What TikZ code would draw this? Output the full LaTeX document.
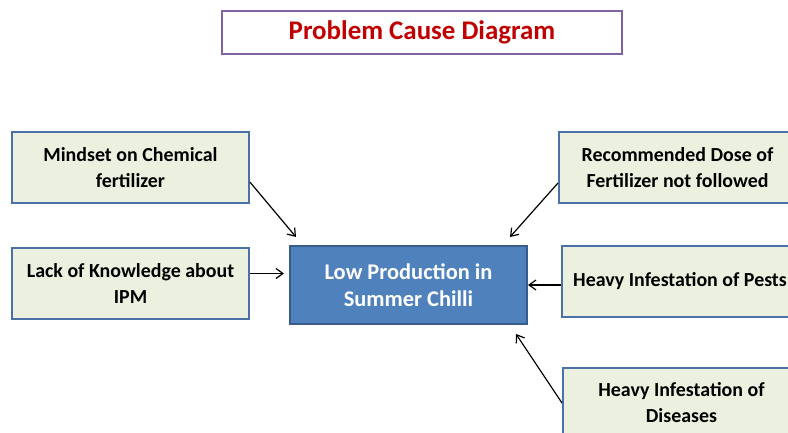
\documentclass[tikz,border=0pt]{standalone}
\usepackage{fontspec}
\setmainfont{Carlito}
\usetikzlibrary{arrows.meta, positioning, calc}
\definecolor{causefill}{HTML}{EBF1DE}
\definecolor{causeline}{HTML}{4A72A8}
\definecolor{mainfill}{HTML}{4F81BD}
\definecolor{mainline}{HTML}{385D8A}
\definecolor{titleline}{HTML}{8064A2}
\definecolor{titletext}{HTML}{C00000}
\tikzset{
    cause/.style={draw=causeline, fill=causefill, line width=2bp, minimum width=237bp,
      minimum height=71bp, inner sep=0pt, align=center,
      font=\fontsize{20}{26}\selectfont\bfseries},
    problem/.style={cause, draw=mainline, fill=mainfill, text=white, minimum height=78bp,
      font=\fontsize{22.5}{27}\selectfont\bfseries},
    heading/.style={draw=titleline, line width=2bp, minimum width=400bp, minimum height=43bp,
      text=titletext, font=\fontsize{27}{30}\selectfont\bfseries},
}

\begin{document}
\begin{tikzpicture}[x=1bp, y=1bp]
    \tikzset{
      cause arrow/.style={-{Straight Barb[length=7bp,width=10bp]}, line width=1.2bp},
    }
    \useasboundingbox (0,0) rectangle (788,432);
    \clip (0,0) rectangle (788,432);

    \node[heading] (title) at (422,399.5) {Problem Cause Diagram};
    \node[problem] (low) at (408.5,147) {Low Production in\\Summer Chilli};

    % causes on the left
    \node[cause] (mind) at (130.5,264.5) {Mindset on Chemical\\fertilizer};
    \node[cause, below=43bp of mind] (lack) {Lack of Knowledge about\\IPM};

    % causes on the right
    \node[cause] (rec) at (677.5,264.5) {Recommended Dose of\\Fertilizer not followed};
    \node[cause] (pests) at (680,150.5) {Heavy Infestation of Pests};
    \node[cause] (dis) at (681.5,29) {Heavy Infestation of\\Diseases};

    \coordinate (lackend) at ($(low.west)+(-5,11.5)$);

    \draw[cause arrow] (mind.-7.5) -- ($(low.north west)+(7,8)$);
    \draw[cause arrow] (lack.east |- lackend) -- (lackend);
    \draw[cause arrow] ($(rec.west)+(0,-15.5)$) -- ($(low.north east)+(-18,8)$);
    \draw[cause arrow] (pests.west |- low.east) -- (low.east);
    \draw[cause arrow] (dis.west) -- ($(low.south east)+(-12,-9)$);
\end{tikzpicture}
\end{document}
